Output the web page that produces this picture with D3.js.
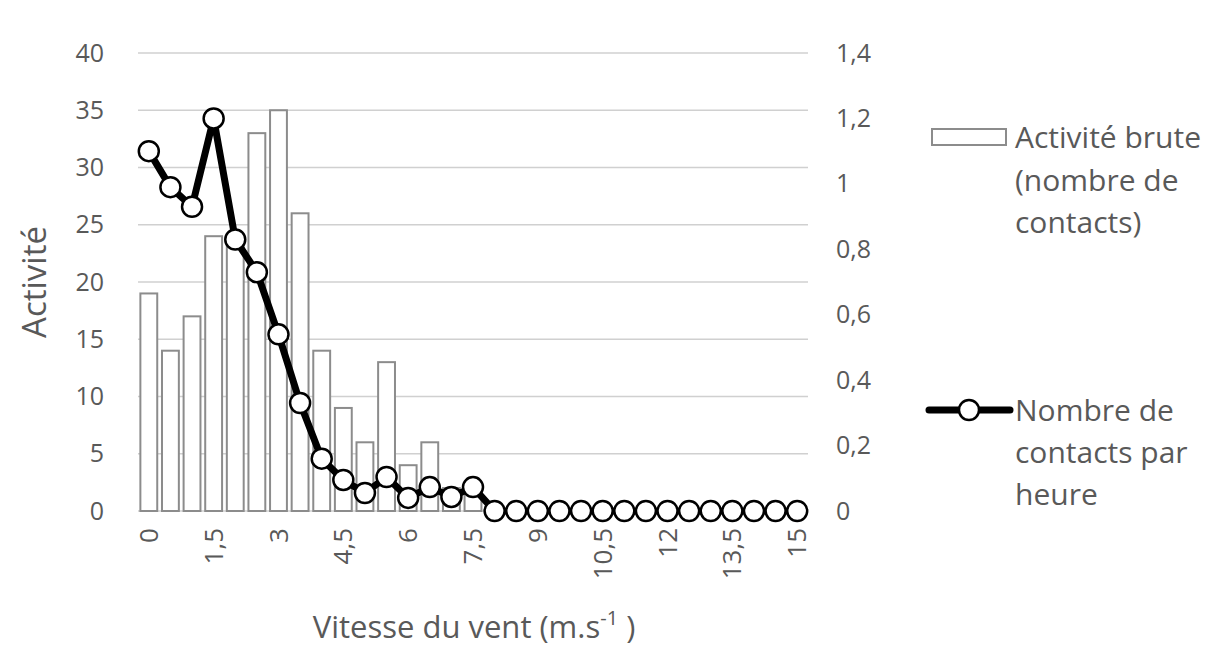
<!DOCTYPE html>
<html>
<head>
<meta charset="utf-8">
<script src="https://cdn.jsdelivr.net/npm/d3@7"></script>
<style>
  body { margin: 0; background: #fff; }
  text { font-family: "Open Sans", "Noto Sans", sans-serif; fill: #595959; }
</style>
</head>
<body>
<svg id="chart" width="1215" height="652"></svg>
<script>
// wind speed classes (m/s)
const speeds = d3.range(0, 31).map((i) => i * 0.5);
// raw activity (number of contacts), left axis
const activity = [19, 14, 17, 24, 24, 33, 35, 26, 14, 9, 6, 13, 4, 6, 2, 2,
  0, 0, 0, 0, 0, 0, 0, 0, 0, 0, 0, 0, 0, 0, 0];
// contacts per hour, right axis
const perHour = [1.10, 0.99, 0.93, 1.20, 0.83, 0.73, 0.54, 0.33, 0.16, 0.095, 0.055,
  0.104, 0.04, 0.073, 0.043, 0.073, 0, 0, 0, 0, 0, 0, 0, 0, 0, 0, 0, 0, 0, 0, 0];
const leftTicks = [0, 5, 10, 15, 20, 25, 30, 35, 40];
const rightTicks = [0, 0.2, 0.4, 0.6, 0.8, 1, 1.2, 1.4];
const xLabelEvery = 3;

const svg = d3.select('#chart');
const fmt = (v) => String(+v.toFixed(2)).replace('.', ',');

const x = d3.scaleBand()
  .domain(speeds)
  .range([138, 808])
  .paddingInner(0.22)
  .paddingOuter(0.11);
const yL = d3.scaleLinear().domain([0, 40]).range([511, 53]);
const yR = d3.scaleLinear().domain([0, 1.4]).range([511, 53]);
const cx = (d) => x(d) + x.bandwidth() / 2;

// gridlines
svg.append('g')
  .selectAll('line')
  .data(leftTicks)
  .join('line')
  .attr('x1', 138).attr('x2', 808)
  .attr('y1', (d) => yL(d)).attr('y2', (d) => yL(d))
  .attr('stroke', '#d0d0d0')
  .attr('stroke-width', 1.5);

// left axis labels
const axL = svg.append('g')
  .attr('transform', 'translate(118,0)')
  .call(d3.axisLeft(yL).tickValues(leftTicks).tickSize(0).tickPadding(14));
axL.select('.domain').remove();
axL.selectAll('text').attr('font-size', 25).attr('fill', '#595959')
  .style('font-family', '"Open Sans", sans-serif');

// right axis labels
const axR = svg.append('g')
  .attr('transform', 'translate(822,0)')
  .call(d3.axisRight(yR).tickValues(rightTicks).tickSize(0).tickPadding(14)
    .tickFormat(fmt));
axR.select('.domain').remove();
axR.selectAll('text').attr('font-size', 25).attr('fill', '#595959')
  .style('font-family', '"Open Sans", sans-serif');

// bars
svg.append('g')
  .selectAll('rect')
  .data(speeds)
  .join('rect')
  .attr('x', (d) => x(d))
  .attr('y', (d, i) => yL(activity[i]))
  .attr('width', x.bandwidth())
  .attr('height', (d, i) => yL(0) - yL(activity[i]))
  .attr('fill', '#fff')
  .attr('stroke', '#8c8c8c')
  .attr('stroke-width', 2);

// x axis labels
const axX = svg.append('g')
  .attr('transform', 'translate(0,522)')
  .call(d3.axisBottom(x)
    .tickValues(speeds.filter((d, i) => i % xLabelEvery === 0))
    .tickSize(0)
    .tickFormat(fmt));
axX.select('.domain').remove();
axX.selectAll('text')
  .attr('font-size', 26)
  .attr('fill', '#595959')
  .style('font-family', '"Open Sans", sans-serif')
  .attr('text-anchor', 'end')
  .attr('dy', '0.35em')
  .attr('y', 0)
  .attr('x', -6)
  .attr('transform', 'rotate(-90)');

// line series
const line = d3.line().x((d, i) => cx(speeds[i])).y((d) => yR(d));
svg.append('path')
  .datum(perHour)
  .attr('d', line)
  .attr('fill', 'none')
  .attr('stroke', '#000')
  .attr('stroke-width', 7)
  .attr('stroke-linejoin', 'round');
svg.append('g')
  .selectAll('circle')
  .data(perHour)
  .join('circle')
  .attr('cx', (d, i) => cx(speeds[i]))
  .attr('cy', (d) => yR(d))
  .attr('r', 10)
  .attr('fill', '#fff')
  .attr('stroke', '#000')
  .attr('stroke-width', 2.5);

// axis titles
svg.append('text')
  .attr('transform', 'translate(46,282) rotate(-90)')
  .attr('text-anchor', 'middle')
  .attr('font-size', 33)
  .text('Activité');
const xt = svg.append('text')
  .attr('x', 474).attr('y', 638)
  .attr('text-anchor', 'middle')
  .attr('font-size', 31);
xt.append('tspan').text('Vitesse du vent (m.s');
xt.append('tspan').attr('font-size', 20).attr('dy', -13).text('-1');
xt.append('tspan').attr('dy', 13).text(' )');

// legend
const leg = svg.append('g');
leg.append('rect')
  .attr('x', 932).attr('y', 129).attr('width', 74).attr('height', 16)
  .attr('fill', '#fff').attr('stroke', '#8c8c8c').attr('stroke-width', 2);
const legText1 = ['Activité brute', '(nombre de', 'contacts)'];
leg.append('g').selectAll('text')
  .data(legText1)
  .join('text')
  .attr('x', 1015).attr('y', (d, i) => 148 + i * 42.5)
  .attr('font-size', 30)
  .text((d) => d);
leg.append('line')
  .attr('x1', 929).attr('x2', 1010).attr('y1', 410).attr('y2', 410)
  .attr('stroke', '#000').attr('stroke-width', 7).attr('stroke-linecap', 'round');
leg.append('circle')
  .attr('cx', 969).attr('cy', 410).attr('r', 10)
  .attr('fill', '#fff').attr('stroke', '#000').attr('stroke-width', 2.5);
const legText2 = ['Nombre de', 'contacts par', 'heure'];
leg.append('g').selectAll('text')
  .data(legText2)
  .join('text')
  .attr('x', 1015).attr('y', (d, i) => 421 + i * 42)
  .attr('font-size', 30)
  .text((d) => d);
</script>
</body>
</html>
